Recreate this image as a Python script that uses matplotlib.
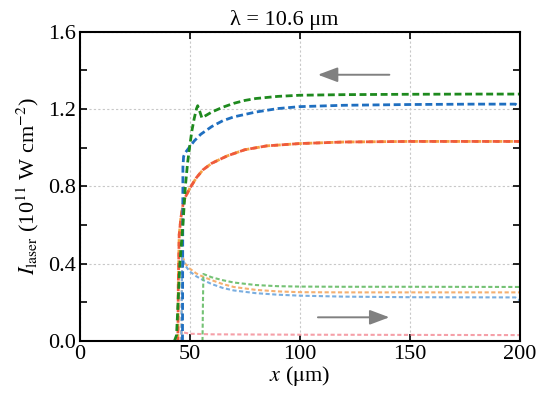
import matplotlib
matplotlib.use("Agg")
import matplotlib.pyplot as plt
from matplotlib.ticker import MultipleLocator, FormatStrFormatter

plt.rcParams['font.family'] = ['Liberation Serif', 'DejaVu Serif']
plt.rcParams['mathtext.fontset'] = 'stix'

# backward (dashed) curves
x_green_b = [43, 44, 45.5, 47, 48, 49, 50, 51, 52, 53, 53.6, 54.5, 55.5, 57, 60, 65, 70, 75, 80, 90, 100, 120, 150, 180, 200]
y_green_b = [0.0, 0.03, 0.4, 0.62, 0.80, 0.92, 1.01, 1.09, 1.15, 1.20, 1.218, 1.19, 1.155, 1.165, 1.185, 1.21, 1.23, 1.245, 1.255, 1.266, 1.272, 1.275, 1.277, 1.278, 1.278]

x_blue_b = [46.5, 46.7, 46.8, 46.9, 47.2, 48, 50, 52, 55, 60, 65, 70, 80, 90, 100, 120, 150, 180, 198, 200]
y_blue_b = [0.0, 0.0, 0.5, 0.9, 0.955, 0.975, 1.005, 1.035, 1.07, 1.11, 1.14, 1.16, 1.185, 1.203, 1.213, 1.22, 1.224, 1.226, 1.226, 1.21]

x_red_b = [44.6, 44.8, 45.2, 46, 47, 48, 50, 53, 56, 60, 67, 75, 85, 100, 120, 150, 200]
y_red_b = [0.0, 0.3, 0.55, 0.64, 0.71, 0.745, 0.79, 0.845, 0.886, 0.92, 0.958, 0.99, 1.01, 1.022, 1.03, 1.033, 1.033]

# forward (dotted) curves
x_fwd = [46.2, 46.4, 46.6, 47, 48, 50, 53, 56, 60, 65, 70, 80, 90, 100, 120, 150, 198, 200]
y_orange_f = [0.0, 0.3, 0.46, 0.43, 0.40, 0.375, 0.35, 0.333, 0.315, 0.295, 0.28, 0.265, 0.257, 0.253, 0.252, 0.252, 0.252, 0.252]
y_blue_f = [0.0, 0.3, 0.45, 0.42, 0.39, 0.36, 0.335, 0.316, 0.295, 0.275, 0.262, 0.248, 0.24, 0.235, 0.23, 0.227, 0.226, 0.21]

x_green_f = [55.8, 56, 56.2, 60, 65, 70, 80, 90, 100, 120, 150, 200]
y_green_f = [0.0, 0.2, 0.347, 0.33, 0.315, 0.303, 0.29, 0.284, 0.282, 0.281, 0.281, 0.28]

x_pink_f = [46.0, 46.3, 47, 50, 60, 100, 150, 200]
y_pink_f = [0.0, 0.053, 0.045, 0.038, 0.035, 0.033, 0.032, 0.031]

fig = plt.figure(figsize=(5.5, 3.98), dpi=100)
ax = fig.add_axes([0.145, 0.143, 0.8, 0.777])

# forward, thin dotted
ax.plot(x_pink_f, y_pink_f, color='#f5a0a8', lw=1.5, dashes=(2, 1.2))
ax.plot(x_fwd, y_orange_f, color='#f5b070', lw=1.5, dashes=(2, 1.2))
ax.plot(x_fwd, y_blue_f, color='#7aaee0', lw=1.5, dashes=(2, 1.2))
ax.plot(x_green_f, y_green_f, color='#74c274', lw=1.5, dashes=(2, 1.2))

# backward, dashed
ax.plot(x_red_b, y_red_b, color='#f5a040', lw=2.0, dashes=(2.5, 1.3))
ax.plot(x_red_b, y_red_b, color='#ef5a3c', lw=2.0, linestyle=(1.0, (2.5, 1.3)))
ax.plot(x_blue_b, y_blue_b, color='#1f6fc0', lw=2.0, dashes=(2.5, 1.3))
ax.plot(x_green_b, y_green_b, color='#1e8a1e', lw=2.0, dashes=(2.5, 1.3))

# direction arrows
ax.annotate('', xy=(107, 1.378), xytext=(142, 1.378),
            arrowprops=dict(arrowstyle='-|>,head_length=1.2,head_width=0.45', color='#808080', lw=1.4))
ax.annotate('', xy=(142, 0.123), xytext=(107, 0.123),
            arrowprops=dict(arrowstyle='-|>,head_length=1.2,head_width=0.45', color='#808080', lw=1.4))

ax.set_xlim(0, 200)
ax.set_ylim(0, 1.6)
ax.xaxis.set_major_locator(MultipleLocator(50))
ax.yaxis.set_major_locator(MultipleLocator(0.4))
ax.yaxis.set_minor_locator(MultipleLocator(0.2))
ax.yaxis.set_major_formatter(FormatStrFormatter('%.1f'))
ax.tick_params(which='both', direction='in', top=True, right=True, labelsize=16,
               width=1.2, length=5, pad=3)
ax.grid(True, which='major', color='#c8c8c8', linestyle=(0, (2, 2)), lw=0.8)
for s in ax.spines.values():
    s.set_linewidth(1.5)

ax.set_xlabel(r'$x$ ($\mathrm{\mu}$m)', fontsize=16, labelpad=0)
ax.set_ylabel(r'$I_{\rm laser}$ (10$^{11}$ W cm$^{-2}$)', fontsize=16, labelpad=5)
ax.set_title('λ = 10.6 μm', fontsize=16, pad=5, x=0.464)

fig.savefig('out.png', dpi=100)
